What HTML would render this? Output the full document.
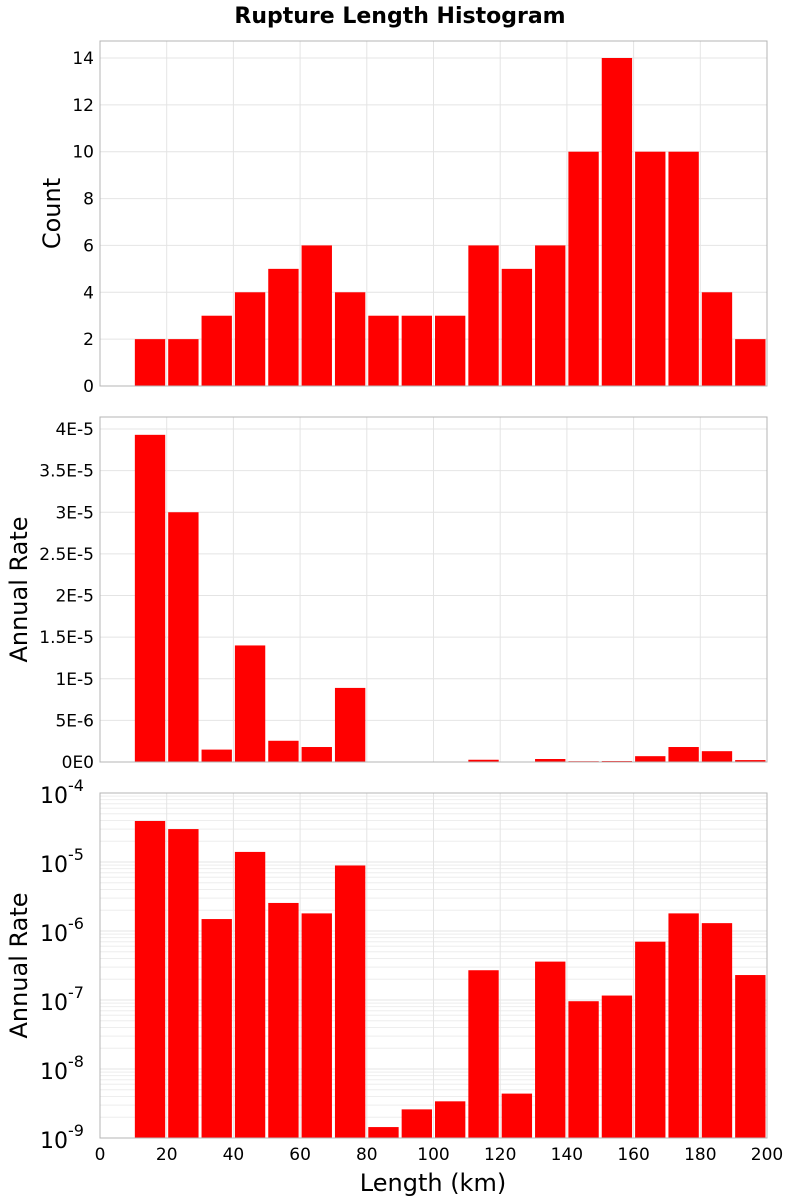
<!DOCTYPE html>
<html><head><meta charset="utf-8"><style>
body{margin:0;background:#fff}
svg{display:block;font-family:"DejaVu Sans","Liberation Sans",sans-serif}
</style></head><body>
<svg id="chart" width="800" height="1200" xmlns="http://www.w3.org/2000/svg">
<text x="400" y="23" text-anchor="middle" font-size="22" font-weight="bold">Rupture Length Histogram</text>
</svg>
<script>
const binStarts=[10,20,30,40,50,60,70,80,90,100,110,120,130,140,150,160,170,180,190];
const counts=[2,2,3,4,5,6,4,3,3,3,6,5,6,10,14,10,10,4,2];
const rates=[3.93e-5,3.0e-5,1.49e-6,1.4e-5,2.55e-6,1.8e-6,8.9e-6,1.44e-9,2.6e-9,3.4e-9,2.7e-7,4.4e-9,3.6e-7,9.6e-8,1.16e-7,7.0e-7,1.8e-6,1.3e-6,2.3e-7];
const xTicks=[0,20,40,60,80,100,120,140,160,180,200];
const countTicks=[0,2,4,6,8,10,12,14];
const rateTicks=[0,5e-6,1e-5,1.5e-5,2e-5,2.5e-5,3e-5,3.5e-5,4e-5];
const rateTickLabels=["0E0","5E-6","1E-5","1.5E-5","2E-5","2.5E-5","3E-5","3.5E-5","4E-5"];
const logTicks=[-9,-8,-7,-6,-5,-4];
const binWidth=10;

const svg=document.getElementById('chart');
const NS='http://www.w3.org/2000/svg';
const L=100,R=767;
function el(tag,attrs,parent){const e=document.createElementNS(NS,tag);for(const k in attrs)e.setAttribute(k,attrs[k]);(parent||svg).appendChild(e);return e;}
const xs=v=>L+(v/200)*(R-L);

function panel(name,top,bottom,yfun,grid,minor,values,yTitle){
  const g=el('g',{});
  
  
  minor.forEach(v=>{const y=yfun(v);const ln=el('line',{x1:L,x2:R,y1:y,y2:y,stroke:'#eeeeee','stroke-width':1},g);
    });
  xTicks.forEach(v=>{const ln=el('line',{x1:xs(v),x2:xs(v),y1:top,y2:bottom,stroke:'#e4e4e4','stroke-width':1},g);
    });
  grid.forEach(v=>{const y=yfun(v);const ln=el('line',{x1:L,x2:R,y1:y,y2:y,stroke:'#e4e4e4','stroke-width':1},g);
    });
  values.forEach((v,i)=>{const x0=xs(binStarts[i])+1.5,x1=xs(binStarts[i]+binWidth)-1.5;
    let yt=Math.max(top,yfun(v));
    const r=el('rect',{x:x0,y:yt,width:x1-x0,height:Math.max(0,bottom-yt),fill:'#ff0000'},g);
    });
  const f=el('rect',{x:L,y:top,width:R-L,height:bottom-top,fill:'none',stroke:'#b4b4b4','stroke-width':1},g);
  
  const cy=(top+bottom)/2;
  const t=el('text',{x:0,y:0,'font-size':24,'text-anchor':'middle',transform:`translate(${name==='count-panel'?60:27},${cy}) rotate(-90)`},g);
  t.textContent=yTitle;
  
}

// Panel 1
const y1=v=>386-v*(386-58)/14;
panel('count-panel',41,386,y1,countTicks,[],counts,'Count');
countTicks.forEach(v=>{const t=el('text',{x:94,y:y1(v)+6,'font-size':17,'text-anchor':'end'});t.textContent=v;
  });

// Panel 2
const y2=v=>762-v*(762-429)/4e-5;
panel('rate-linear-panel',417,762,y2,rateTicks,[],rates,'Annual Rate');
rateTicks.forEach((v,i)=>{const t=el('text',{x:94,y:y2(v)+6,'font-size':17,'text-anchor':'end'});t.textContent=rateTickLabels[i];
  });

// Panel 3
const y3=v=>793+(-4-Math.log10(v))*69;
const minors=[];
for(let d=-9;d<-4;d++)for(let m=2;m<=9;m++)minors.push(m*Math.pow(10,d));
panel('rate-log-panel',793,1138,y3,logTicks.map(e=>Math.pow(10,e)),minors,rates,'Annual Rate');
logTicks.forEach(e=>{const y=y3(Math.pow(10,e));
  const t=el('text',{x:62,y:y+10,'font-size':22,'text-anchor':'middle'});
  t.textContent='10';
  const s=el('tspan',{dy:-12,'font-size':16},t);s.textContent=String(e);
  });

// X axis
xTicks.forEach(v=>{const t=el('text',{x:xs(v),y:1160,'font-size':17,'text-anchor':'middle'});t.textContent=v;
  });
const xt=el('text',{x:433,y:1191,'font-size':24,'text-anchor':'middle'});xt.textContent='Length (km)';

</script>
</body></html>
